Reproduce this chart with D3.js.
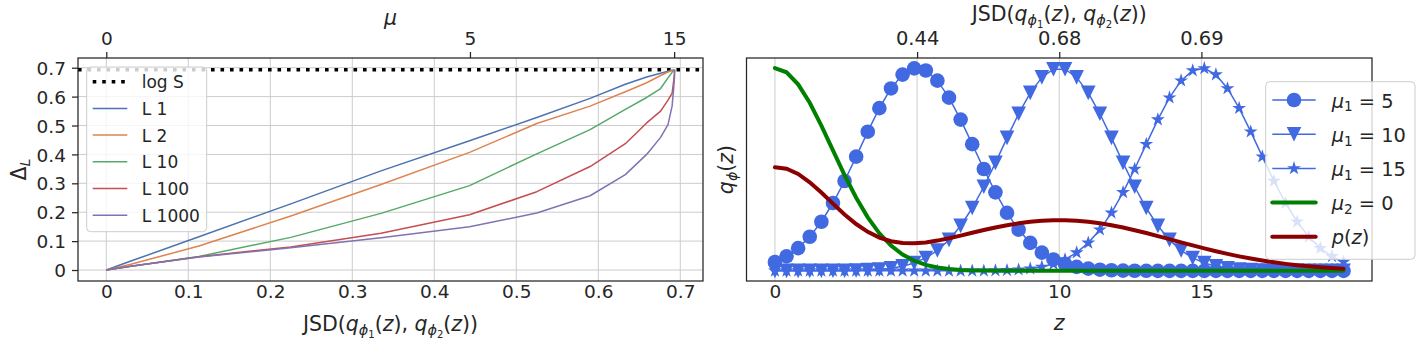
<!DOCTYPE html>
<html><head><meta charset="utf-8">
<script src="https://cdn.jsdelivr.net/npm/d3@7"></script>
<style>
body{margin:0;background:#fff}
svg{display:block}
text{font-family:"DejaVu Sans",sans-serif;fill:#262626;white-space:pre}
</style>
</head><body>
<svg id="c" width="1422" height="348"></svg>
<script>
// ---------- Left panel data ----------
const jsd   = [0, 0.030, 0.113, 0.225, 0.335, 0.443, 0.525, 0.590, 0.633, 0.659, 0.676, 0.685, 0.690, 0.692, 0.693, 0.693];
const L1    = [0, 0.031, 0.115, 0.229, 0.343, 0.447, 0.528, 0.594, 0.643, 0.668, 0.681, 0.688, 0.691, 0.692, 0.693, 0.693];
const L2    = [0, 0.020, 0.083, 0.187, 0.296, 0.407, 0.507, 0.567, 0.617, 0.648, 0.673, 0.685, 0.690, 0.692, 0.693, 0.693];
const L10   = [0, 0.013, 0.047, 0.113, 0.196, 0.292, 0.402, 0.486, 0.556, 0.597, 0.628, 0.665, 0.684, 0.690, 0.693, 0.693];
const L100  = [0, 0.013, 0.046, 0.080, 0.127, 0.191, 0.271, 0.358, 0.437, 0.509, 0.550, 0.588, 0.611, 0.655, 0.685, 0.693];
const L1000 = [0, 0.013, 0.045, 0.077, 0.112, 0.150, 0.197, 0.257, 0.330, 0.400, 0.459, 0.503, 0.567, 0.630, 0.670, 0.693];
const logS = 0.693;
const leftSeriesNames = ["L 1", "L 2", "L 10", "L 100", "L 1000"];
const leftColors = ["#4C72B0", "#DD8452", "#55A868", "#C44E52", "#8172B3"];
const leftXTicks = [0, 0.1, 0.2, 0.3, 0.4, 0.5, 0.6, 0.7];
const leftXTickLabels = ["0", "0.1", "0.2", "0.3", "0.4", "0.5", "0.6", "0.7"];
const leftYTicks = [0, 0.1, 0.2, 0.3, 0.4, 0.5, 0.6, 0.7];
const leftYTickLabels = ["0", "0.1", "0.2", "0.3", "0.4", "0.5", "0.6", "0.7"];
const muTickPos = [0, 0.4435, 0.6925];
const muTickLabels = ["0", "5", "15"];

// ---------- Right panel data ----------
const z = [0, 0.408, 0.816, 1.224, 1.633, 2.041, 2.449, 2.857, 3.265, 3.673,
           4.082, 4.490, 4.898, 5.306, 5.714, 6.122, 6.531, 6.939, 7.347, 7.755,
           8.163, 8.571, 8.980, 9.388, 9.796, 10.204, 10.612, 11.020, 11.429, 11.837,
           12.245, 12.653, 13.061, 13.469, 13.878, 14.286, 14.694, 15.102, 15.510, 15.918,
           16.327, 16.735, 17.143, 17.551, 17.959, 18.367, 18.776, 19.184, 19.592, 20.0];
const qMu5 = [0.0439, 0.0717, 0.1121, 0.1683, 0.2424, 0.3347, 0.4433, 0.5633, 0.6865, 0.8026,
              0.8999, 0.9680, 0.9987, 0.9884, 0.9382, 0.8543, 0.7461, 0.6251, 0.5023, 0.3872,
              0.2863, 0.2030, 0.1381, 0.0901, 0.0564, 0.0339, 0.0195, 0.0108, 0.0057, 0.0029,
              0.0014, 0.0007, 0.0003, 0.0001, 0, 0, 0, 0, 0, 0,
              0, 0, 0, 0, 0, 0, 0, 0, 0, 0];
const qMu10 = [0, 0, 0, 0.0001, 0.0002, 0.0004, 0.0008, 0.0017, 0.0035, 0.0067,
               0.0126, 0.0225, 0.0386, 0.0637, 0.1007, 0.1527, 0.2221, 0.3100, 0.4149, 0.5326,
               0.6559, 0.7748, 0.8780, 0.9542, 0.9948, 0.9948, 0.9542, 0.8780, 0.7748, 0.6559,
               0.5326, 0.4149, 0.3100, 0.2221, 0.1527, 0.1007, 0.0637, 0.0386, 0.0225, 0.0126,
               0.0067, 0.0035, 0.0017, 0.0008, 0.0004, 0.0002, 0.0001, 0, 0, 0];
const qMu15 = [0, 0, 0, 0, 0, 0, 0, 0, 0, 0,
               0, 0, 0, 0, 0, 0, 0.0001, 0.0003, 0.0007, 0.0014,
               0.0029, 0.0057, 0.0108, 0.0195, 0.0339, 0.0564, 0.0901, 0.1381, 0.2030, 0.2863,
               0.3872, 0.5023, 0.6251, 0.7461, 0.8543, 0.9382, 0.9884, 0.9987, 0.9680, 0.8999,
               0.8026, 0.6865, 0.5633, 0.4433, 0.3347, 0.2424, 0.1683, 0.1121, 0.0717, 0.0439];
const qMu2 = [1.0000, 0.9794, 0.9201, 0.8291, 0.7166, 0.5942, 0.4725, 0.3605, 0.2638, 0.1851,
              0.1247, 0.0805, 0.0498, 0.0296, 0.0169, 0.0092, 0.0048, 0.0024, 0.0012, 0.0005,
              0.0002, 0.0001, 0, 0, 0, 0, 0, 0, 0, 0,
              0, 0, 0, 0, 0, 0, 0, 0, 0, 0,
              0, 0, 0, 0, 0, 0, 0, 0, 0, 0];
const pz = [0.5110, 0.5038, 0.4780, 0.4371, 0.3863, 0.3316, 0.2783, 0.2310, 0.1925, 0.1641,
            0.1460, 0.1371, 0.1357, 0.1404, 0.1493, 0.1609, 0.1740, 0.1877, 0.2013, 0.2138,
            0.2251, 0.2346, 0.2420, 0.2471, 0.2497, 0.2497, 0.2471, 0.2420, 0.2346, 0.2250,
            0.2136, 0.2007, 0.1865, 0.1716, 0.1563, 0.1408, 0.1256, 0.1108, 0.0968, 0.0837,
            0.0716, 0.0606, 0.0508, 0.0421, 0.0345, 0.0280, 0.0225, 0.0179, 0.0141, 0.0110];
const rightXTicks = [0, 5, 10, 15];
const rightXTickLabels = ["0", "5", "10", "15"];
const jsdTickZ = [5, 10, 15];
const jsdTickLabels = ["0.44", "0.68", "0.69"];

const TXT = "#262626", GRID = "#cccccc", BLUE = "#4169E1";
const svg = d3.select("#c");
svg.append("rect").attr("width",1422).attr("height",348).attr("fill","#fff");

function mtext(g, x, y, parts, fs, anchor, rotate) {
  const t = g.append("text").attr("font-size", fs).attr("text-anchor", anchor || "middle");
  if (rotate) t.attr("transform", `translate(${x},${y}) rotate(-90)`);
  else t.attr("x", x).attr("y", y);
  let cur = 0;
  parts.forEach(([s, st]) => {
    let size = fs, off = 0, it = false;
    if (st === "i") it = true;
    if (st === "s") { size = fs * 0.7; off = fs * 0.2; it = true; }
    if (st === "sn") { size = fs * 0.7; off = fs * 0.2; }
    if (st === "ss") { size = fs * 0.49; off = fs * 0.32; }
    const ts = t.append("tspan").text(s).attr("font-size", size).attr("dy", (off - cur).toFixed(2));
    if (it) ts.attr("font-style", "italic");
    cur = off;
  });
  return t;
}
const jsdParts = [["JSD(","n"],["q","i"],["\u03d5","s"],["1","ss"],["(","n"],["z","i"],["), ","n"],
                  ["q","i"],["\u03d5","s"],["2","ss"],["(","n"],["z","i"],["))","n"]];

function starPath(R) {
  const r = R * 0.381966; let p = "";
  for (let k = 0; k < 10; k++) {
    const a = -Math.PI / 2 + k * Math.PI / 5, rr = k % 2 ? r : R;
    p += (k ? "L" : "M") + (rr * Math.cos(a)).toFixed(2) + "," + (rr * Math.sin(a)).toFixed(2);
  }
  return p + "Z";
}
const triPath = h => `M${-h},${-h}L${h},${-h}L0,${h}Z`;
const circPath = r => `M${r},0A${r},${r} 0 1,1 ${-r},0A${r},${r} 0 1,1 ${r},0Z`;

// =================== LEFT PANEL ===================
const LA = {x0: 78, x1: 703, y0: 58, y1: 281};
const xL = d3.scaleLinear().domain([-0.0345, 0.7277]).range([LA.x0, LA.x1]);
const yL = d3.scaleLinear().domain([-0.038, 0.7336]).range([LA.y1, LA.y0]);
const gl = svg.append("g");

gl.append("g").selectAll("line").data(leftXTicks).join("line")
  .attr("x1", d => xL(d)).attr("x2", d => xL(d)).attr("y1", LA.y0).attr("y2", LA.y1)
  .attr("stroke", GRID).attr("stroke-width", 1);
gl.append("g").selectAll("line").data(leftYTicks).join("line")
  .attr("y1", d => yL(d)).attr("y2", d => yL(d)).attr("x1", LA.x0).attr("x2", LA.x1)
  .attr("stroke", GRID).attr("stroke-width", 1);

gl.append("line").attr("x1", LA.x0).attr("x2", LA.x1).attr("y1", yL(logS)).attr("y2", yL(logS))
  .attr("stroke", "#000").attr("stroke-width", 3.6).attr("stroke-dasharray", "3.6,5.9");

const leftSeries = [L1, L2, L10, L100, L1000];
const lineL = d3.line().x((d, i) => xL(jsd[i])).y(d => yL(d));
leftSeries.forEach((s, k) => {
  gl.append("path").datum(s).attr("d", lineL).attr("fill", "none")
    .attr("stroke", leftColors[k]).attr("stroke-width", 1.5).attr("stroke-linejoin", "round");
});

gl.append("rect").attr("x", LA.x0).attr("y", LA.y0).attr("width", LA.x1 - LA.x0).attr("height", LA.y1 - LA.y0)
  .attr("fill", "none").attr("stroke", TXT).attr("stroke-width", 1.25);

function styleAxis(g, fs) {
  g.select(".domain").remove();
  g.selectAll("text").attr("font-size", fs).attr("fill", TXT).style("font-family", '"DejaVu Sans",sans-serif');
  g.selectAll(".tick line").attr("stroke", TXT).attr("stroke-width", 1.25);
}
gl.append("g").attr("transform", `translate(0,${LA.y1})`)
  .call(d3.axisBottom(xL).tickValues(leftXTicks).tickFormat((d, i) => leftXTickLabels[i]).tickSize(0).tickPadding(4))
  .call(g => styleAxis(g, 18.5));
gl.append("g").attr("transform", `translate(${LA.x0},0)`)
  .call(d3.axisLeft(yL).tickValues(leftYTicks).tickFormat((d, i) => leftYTickLabels[i]).tickSize(6).tickPadding(6))
  .call(g => { styleAxis(g, 18.5); g.selectAll("text").attr("dy", "0.36em"); });
gl.append("g").attr("transform", `translate(0,${LA.y0})`)
  .call(d3.axisTop(xL).tickValues(muTickPos).tickFormat((d, i) => muTickLabels[i]).tickSize(6).tickPadding(7))
  .call(g => styleAxis(g, 18.5));

mtext(gl, (LA.x0 + LA.x1) / 2, 24.5, [["\u03bc","i"]], 20.5);
mtext(gl, (LA.x0 + LA.x1) / 2, 331, jsdParts, 20.5);
mtext(gl, 26, (LA.y0 + LA.y1) / 2, [["\u0394","n"],["L","s"]], 20.5, "middle", true);

const lgL = gl.append("g");
lgL.append("rect").attr("x", 86.7).attr("y", 67).attr("width", 120).attr("height", 164.7).attr("rx", 4)
  .attr("fill", "#fff").attr("fill-opacity", 0.8).attr("stroke", "#cccccc").attr("stroke-width", 1);
const leftLegRows = [81.7, 108.4, 135.1, 161.8, 188.5, 215.2];
lgL.append("line").attr("x1", 92.7).attr("x2", 127.3).attr("y1", leftLegRows[0]).attr("y2", leftLegRows[0])
  .attr("stroke", "#000").attr("stroke-width", 3.6).attr("stroke-dasharray", "3.6,5.9");
lgL.append("text").attr("x", 141.7).attr("y", leftLegRows[0] + 6.5).attr("font-size", 17).text("log S");
leftSeriesNames.forEach((n, k) => {
  const y = leftLegRows[k + 1];
  lgL.append("line").attr("x1", 92.7).attr("x2", 127.3).attr("y1", y).attr("y2", y)
    .attr("stroke", leftColors[k]).attr("stroke-width", 1.5);
  lgL.append("text").attr("x", 141.7).attr("y", y + 6.5).attr("font-size", 17).text(n);
});

// =================== RIGHT PANEL ===================
const RA = {x0: 746.5, x1: 1372, y0: 58, y1: 281};
const xR = d3.scaleLinear().domain([-1, 21]).range([RA.x0, RA.x1]);
const yR = d3.scaleLinear().domain([-0.05, 1.05]).range([RA.y1, RA.y0]);
const gr = svg.append("g");

gr.append("g").selectAll("line").data(rightXTicks).join("line")
  .attr("x1", d => xR(d)).attr("x2", d => xR(d)).attr("y1", RA.y0).attr("y2", RA.y1)
  .attr("stroke", GRID).attr("stroke-width", 1);

const lineR = d3.line().x((d, i) => xR(z[i])).y(d => yR(d));
const markerSeries = [
  {data: qMu5, path: circPath(7.3)},
  {data: qMu10, path: triPath(7.3)},
  {data: qMu15, path: starPath(7.3)}
];
markerSeries.forEach(s => {
  gr.append("path").datum(s.data).attr("d", lineR).attr("fill", "none")
    .attr("stroke", BLUE).attr("stroke-width", 1.5);
  gr.append("g").selectAll("path").data(s.data).join("path")
    .attr("d", s.path).attr("transform", (d, i) => `translate(${xR(z[i])},${yR(d)})`)
    .attr("fill", BLUE);
});
gr.append("path").datum(qMu2).attr("d", lineR).attr("fill", "none")
  .attr("stroke", "#008000").attr("stroke-width", 4).attr("stroke-linecap", "round");
gr.append("path").datum(pz).attr("d", lineR).attr("fill", "none")
  .attr("stroke", "#8B0000").attr("stroke-width", 4).attr("stroke-linecap", "round");

gr.append("rect").attr("x", RA.x0).attr("y", RA.y0).attr("width", RA.x1 - RA.x0).attr("height", RA.y1 - RA.y0)
  .attr("fill", "none").attr("stroke", TXT).attr("stroke-width", 1.25);

gr.append("g").attr("transform", `translate(0,${RA.y1})`)
  .call(d3.axisBottom(xR).tickValues(rightXTicks).tickFormat((d, i) => rightXTickLabels[i]).tickSize(0).tickPadding(4))
  .call(g => styleAxis(g, 18.5));
gr.append("g").attr("transform", `translate(0,${RA.y0})`)
  .call(d3.axisTop(xR).tickValues(jsdTickZ).tickFormat((d, i) => jsdTickLabels[i]).tickSize(6).tickPadding(7))
  .call(g => styleAxis(g, 19.5));

mtext(gr, (RA.x0 + RA.x1) / 2, 21, jsdParts, 20.5);
mtext(gr, (RA.x0 + RA.x1) / 2, 330, [["z","i"]], 20.5);
mtext(gr, 733, (RA.y0 + RA.y1) / 2, [["q","i"],["\u03d5","s"],["(","n"],["z","i"],[")","n"]], 20.5, "middle", true);

const lgR = gr.append("g");
lgR.append("rect").attr("x", 1265.7).attr("y", 81.7).attr("width", 149.3).attr("height", 177.6).attr("rx", 4)
  .attr("fill", "#fff").attr("fill-opacity", 0.8).attr("stroke", "#cccccc").attr("stroke-width", 1);
const rightLegRows = [100, 134.2, 168.4, 202.6, 236.8];
const rightLeg = [
  {parts: [["\u03bc","i"],["1","sn"],[" = 5","n"]], color: BLUE, w: 1.5, m: circPath(7.3)},
  {parts: [["\u03bc","i"],["1","sn"],[" = 10","n"]], color: BLUE, w: 1.5, m: triPath(7.3)},
  {parts: [["\u03bc","i"],["1","sn"],[" = 15","n"]], color: BLUE, w: 1.5, m: starPath(7.3)},
  {parts: [["\u03bc","i"],["2","sn"],[" = 0","n"]], color: "#008000", w: 4, m: null},
  {parts: [["p","i"],["(","n"],["z","i"],[")","n"]], color: "#8B0000", w: 4, m: null}
];
rightLeg.forEach((e, k) => {
  const y = rightLegRows[k];
  lgR.append("line").attr("x1", 1272.3).attr("x2", 1315.7).attr("y1", y).attr("y2", y)
    .attr("stroke", e.color).attr("stroke-width", e.w).attr("stroke-linecap", e.m ? "butt" : "round");
  if (e.m) lgR.append("path").attr("d", e.m).attr("transform", `translate(1294,${y})`).attr("fill", e.color);
  mtext(lgR, 1331.7, y + 7.5, e.parts, 19.4, "start");
});
</script>
</body></html>
